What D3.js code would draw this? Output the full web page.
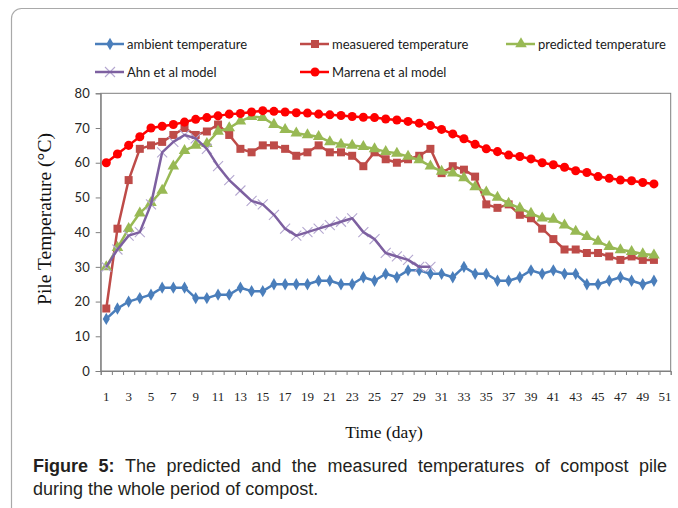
<!DOCTYPE html>
<html>
<head>
<meta charset="utf-8">
<script src="https://cdn.jsdelivr.net/npm/d3@7"></script>
<style>
  body { margin: 0; background: #fff; }
  svg { display: block; }
</style>
</head>
<body>
<div id="chart"></div>
<script>
// Data
const days = d3.range(1, 52)
const tickLabels = days.filter(d => d % 2 === 1)
const yTicks = [0, 10, 20, 30, 40, 50, 60, 70, 80]

const ambient = [15, 18, 20, 21, 22, 24, 24, 24, 21, 21, 22, 22, 24, 23, 23, 25, 25, 25, 25, 26,
  26, 25, 25, 27, 26, 28, 27, 29, 29, 28, 28, 27, 30, 28, 28, 26, 26, 27, 29, 28,
  29, 28, 28, 25, 25, 26, 27, 26, 25, 26]
const measured = [18, 41, 55, 64, 65, 66, 68, 70, 68, 69, 71, 68, 64, 63, 65, 65, 64, 62, 63, 65,
  63, 63, 62, 59, 63, 61, 60, 61, 62, 64, 57, 59, 58, 56, 48, 47, 48, 45, 44, 41,
  38, 35, 35, 34, 34, 33, 32, 33, 32, 32]
const predicted = [30, 35.5, 41, 45.5, 48.5, 52, 59, 63.5, 65, 65.5, 69, 70, 72, 73.3, 73, 71, 69.5, 68.5, 68, 67.5,
  66, 65.3, 65, 64.6, 64, 63.2, 62.7, 61.8, 60.8, 59, 57.5, 57, 55.6, 53, 51.5, 50, 48.3, 46.9, 45.4, 44,
  43.7, 42, 40.2, 38.7, 37.3, 35.8, 34.9, 34.4, 33.7, 33.4]
const ahn = [30, 35, 39, 40, 48, 63, 66, 68, 67, 64, 59, 55, 52, 49, 48, 45, 41, 39, 40, 41,
  42, 43, 44, 40, 38, 34, 33, 32, 30, 30]
const marrena = [60, 62.5, 65, 67.5, 70, 70.5, 71, 71.7, 72.5, 73, 73.5, 74, 74.2, 74.6, 75, 74.8, 74.6, 74.4, 74.3, 74,
  73.8, 73.6, 73.3, 73.1, 73, 72.6, 72.3, 71.9, 71.4, 70.7, 69.6, 68.3, 66.9, 65.3, 64, 63.2, 62.2, 61.8, 61.1, 60,
  59.4, 58.7, 57.7, 57.2, 56, 55.5, 55, 54.8, 54.3, 53.9]

const seriesNames = ['ambient temperature', 'measuered temperature', 'predicted temperature',
  'Ahn et al model', 'Marrena et al model']

// Canvas
const width = 678,
      height = 508,
      plotLeft = 100.7,
      plotRight = 670.7,
      plotTop = 93.3,
      plotBottom = 371

let svg = d3.select('#chart')
  .append('svg')
  .attr('width', width)
  .attr('height', height)

// outer rounded frame
svg.append('rect')
  .attr('x', 11.5)
  .attr('y', 8.5)
  .attr('width', 720)
  .attr('height', 560)
  .attr('rx', 10)
  .attr('fill', 'none')
  .attr('stroke', '#a9a9a9')
  .attr('stroke-width', 1.2)

// Scales
let xScale = d3.scaleBand()
  .domain(days)
  .range([plotLeft, plotRight])
  .padding(0)

let xPos = d => xScale(d) + xScale.bandwidth() / 2

let yScale = d3.scaleLinear()
  .domain([0, 80])
  .range([plotBottom, plotTop])

// plot border
svg.append('rect')
  .attr('x', plotLeft)
  .attr('y', plotTop)
  .attr('width', plotRight - plotLeft)
  .attr('height', plotBottom - plotTop)
  .attr('fill', 'none')
  .attr('stroke', '#7f7f7f')
  .attr('stroke-width', 1)

// y axis
let yAxis = svg.append('g')
  .attr('transform', `translate(${plotLeft},0)`)
  .call(d3.axisLeft(yScale).tickValues(yTicks).tickSize(5).tickPadding(6))
yAxis.select('.domain').attr('stroke', '#7f7f7f')
yAxis.selectAll('.tick line').attr('stroke', '#7f7f7f')
yAxis.selectAll('text')
  .attr('fill', '#262626')
  .style('font-family', 'Lato, "Liberation Sans", sans-serif')
  .style('font-size', '13px')

// x axis: tick marks on category boundaries
let xBounds = d3.scaleLinear()
  .domain([0.5, 51.5])
  .range([plotLeft, plotRight])

let xTickAxis = svg.append('g')
  .attr('transform', `translate(0,${plotBottom})`)
  .call(d3.axisBottom(xBounds)
    .tickValues(d3.range(0.5, 52, 1))
    .tickSize(4)
    .tickFormat(''))
xTickAxis.select('.domain').attr('stroke', '#7f7f7f')
xTickAxis.selectAll('.tick line').attr('stroke', '#7f7f7f')

// x labels (odd days)
let xLabelAxis = svg.append('g')
  .attr('transform', `translate(0,${plotBottom})`)
  .call(d3.axisBottom(xScale)
    .tickValues(tickLabels)
    .tickSize(0)
    .tickPadding(21))
xLabelAxis.select('.domain').remove()
xLabelAxis.selectAll('text')
  .attr('fill', '#262626')
  .style('font-family', '"Liberation Serif", "Times New Roman", serif')
  .style('font-size', '13px')

// axis titles
svg.append('text')
  .attr('transform', 'translate(51,219) rotate(-90)')
  .attr('text-anchor', 'middle')
  .style('font-family', '"Liberation Serif", "Times New Roman", serif')
  .style('font-size', '19.5px')
  .attr('fill', '#111')
  .text('Pile Temperature (°C)')

svg.append('text')
  .attr('x', 384)
  .attr('y', 438)
  .attr('text-anchor', 'middle')
  .style('font-family', '"Liberation Serif", "Times New Roman", serif')
  .style('font-size', '17.5px')
  .attr('fill', '#111')
  .text('Time (day)')

// Series
let line = d3.line()
  .x((d, i) => xPos(days[i]))
  .y(d => yScale(d))

let drawLine = (data, color) => {
  svg.append('path')
    .datum(data)
    .attr('d', line)
    .attr('fill', 'none')
    .attr('stroke', color)
    .attr('stroke-width', 2.5)
    .attr('stroke-linejoin', 'round')
}

let drawMarkers = (data, symbol, size, color) => {
  svg.append('g')
    .selectAll('path')
    .data(data)
    .enter()
    .append('path')
    .attr('transform', (d, i) => `translate(${xPos(days[i])},${yScale(d)})`)
    .attr('d', d3.symbol().type(symbol).size(size))
    .attr('fill', color)
}

// ambient
drawLine(ambient, '#4a7ebb')
drawMarkers(ambient, d3.symbolDiamond, 44, '#4a7ebb')

// measured
drawLine(measured, '#be4b48')
drawMarkers(measured, d3.symbolSquare, 64, '#be4b48')

// predicted
drawLine(predicted, '#98b954')
drawMarkers(predicted, d3.symbolTriangle, 58, '#98b954')

// Ahn: light X markers under the line
svg.append('g')
  .selectAll('path')
  .data(ahn)
  .enter()
  .append('path')
  .attr('transform', (d, i) => `translate(${xPos(days[i])},${yScale(d)})`)
  .attr('d', 'M-5,-5L5,5M-5,5L5,-5')
  .attr('stroke', '#b4a7d0')
  .attr('stroke-width', 1.1)
drawLine(ahn, '#7d60a0')

// Marrena
drawLine(marrena, '#ff0000')
drawMarkers(marrena, d3.symbolCircle, 64, '#ff0000')

// Legend
const legendItems = [
  { name: seriesNames[0], x: 95, y: 44, color: '#4a7ebb', mark: 'diamond' },
  { name: seriesNames[1], x: 300, y: 44, color: '#be4b48', mark: 'square' },
  { name: seriesNames[2], x: 506, y: 44, color: '#98b954', mark: 'triangle' },
  { name: seriesNames[3], x: 95, y: 72, color: '#7d60a0', mark: 'x' },
  { name: seriesNames[4], x: 300, y: 72, color: '#ff0000', mark: 'circle' }
]

let legend = svg.append('g')
legendItems.forEach(item => {
  let g = legend.append('g').attr('transform', `translate(${item.x},${item.y})`)
  if (item.mark === 'x') {
    g.append('path')
      .attr('d', 'M10,-5L20,5M10,5L20,-5')
      .attr('stroke', '#b4a7d0')
      .attr('stroke-width', 1.1)
  }
  g.append('line')
    .attr('x1', 0).attr('x2', 29)
    .attr('stroke', item.color)
    .attr('stroke-width', 2.5)
  let symbols = { diamond: [d3.symbolDiamond, 44], square: [d3.symbolSquare, 64],
    triangle: [d3.symbolTriangle, 58], circle: [d3.symbolCircle, 64] }
  if (symbols[item.mark]) {
    g.append('path')
      .attr('transform', 'translate(15,0)')
      .attr('d', d3.symbol().type(symbols[item.mark][0]).size(symbols[item.mark][1]))
      .attr('fill', item.color)
  }
  g.append('text')
    .attr('x', 32)
    .attr('y', 0)
    .attr('dy', '0.35em')
    .attr('fill', '#1a1a1a')
    .style('font-family', 'Lato, "Liberation Sans", sans-serif')
    .style('font-size', '13px')
    .text(item.name)
})

// Caption
let cap1 = svg.append('text')
  .attr('x', 33)
  .attr('y', 472)
  .attr('fill', '#231f20')
  .style('font-family', '"Liberation Sans", Arial, sans-serif')
  .style('font-size', '18px')
cap1.append('tspan').style('font-weight', 'bold').text('Figure 5:')
cap1.append('tspan').text(' The predicted and the measured temperatures of compost pile')

// justify first line
let natural = cap1.node().getComputedTextLength()
let gaps = 10
cap1.attr('word-spacing', Math.max(0, (667 - 33 - natural) / gaps))

svg.append('text')
  .attr('x', 33)
  .attr('y', 495)
  .attr('fill', '#231f20')
  .style('font-family', '"Liberation Sans", Arial, sans-serif')
  .style('font-size', '18px')
  .text('during the whole period of compost.')
</script>
</body>
</html>
